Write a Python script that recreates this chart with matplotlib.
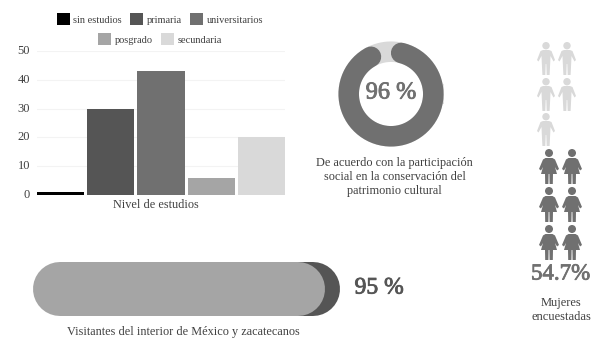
#!/usr/bin/env python3

import matplotlib.pyplot as plt
import matplotlib.patheffects as pe
from matplotlib.patches import Polygon, Circle
import numpy as np

plt.rcParams['font.family'] = ['Liberation Serif', 'DejaVu Serif']

categorias = ["sin estudios", "primaria", "universitarios", "posgrado", "secundaria"]
valores = [1, 30, 43, 6, 20]
colores = ["#000000", "#555555", "#707070", "#a5a5a5", "#d9d9d9"]
yticks = [0, 10, 20, 30, 40, 50]

pct_acuerdo = 96
pct_visitantes = 95
pct_mujeres = 54.7
n_hombres = 5
n_mujeres = 6

W, H = 609, 344
PX = 72 / 100  # points per pixel at dpi 100
TXT = "#404040"

fig = plt.figure(figsize=(W / 100, H / 100), dpi=100)

# bar chart
ax = fig.add_axes([37 / W, 1 - 195 / H, 248 / W, 144 / H])
bars = ax.bar(range(5), valores, width=0.94, color=colores, zorder=3)
ax.set_xlim(-0.47, 4.47)
ax.set_ylim(0, 50)
ax.set_yticks(yticks)
ax.set_xticks([])
ax.tick_params(axis='y', length=0, labelsize=9, labelcolor=TXT, pad=5)
for lab in ax.get_yticklabels():
    lab.set_y(lab.get_position()[1])
    lab.set_verticalalignment('center')
ax.grid(axis='y', color="#f3f3f3", lw=0.8, zorder=0)
ax.set_axisbelow(True)
for s in ax.spines.values():
    s.set_visible(False)
ax.set_xlabel("Nivel de estudios", fontsize=8.8, color=TXT, va='top')
ax.xaxis.set_label_coords(118.5 / 248, -4 / 144)

leg1 = ax.legend(bars[:3], categorias[:3], ncol=3, frameon=False, fontsize=7.5,
                 labelcolor=TXT, handlelength=1.25, handleheight=1.25,
                 handletextpad=0.35, columnspacing=0.8, borderpad=0,
                 loc='center', bbox_to_anchor=(160 / W, 1 - 19 / H),
                 bbox_transform=fig.transFigure)
ax.add_artist(leg1)
ax.legend(bars[3:], categorias[3:], ncol=2, frameon=False, fontsize=7.5,
          labelcolor=TXT, handlelength=1.25, handleheight=1.25,
          handletextpad=0.35, columnspacing=0.8, borderpad=0,
          loc='center', bbox_to_anchor=(160 / W, 1 - 39 / H),
          bbox_transform=fig.transFigure)

# overlay in pixel coordinates for the infographic parts
ov = fig.add_axes([0, 0, 1, 1])
ov.set_xlim(0, W)
ov.set_ylim(H, 0)
ov.axis('off')
ov.patch.set_alpha(0)


def grueso(color):
    return [pe.withStroke(linewidth=0.6, foreground=color)]


# donut with rounded ends
cx, cy, r, grosor = 391, 94, 42.3, 20.5
cap = np.degrees(grosor / 2 / r)
t = np.radians(np.linspace(0, 360, 200))
ov.plot(cx + r * np.cos(t), cy - r * np.sin(t), color="#d9d9d9", lw=grosor * PX)
barrido = pct_acuerdo / 100 * 360 - 2 * cap
t = np.radians(90 - cap - np.linspace(0, barrido, 200))
ov.plot(cx + r * np.cos(t), cy - r * np.sin(t), color="#707070",
        lw=grosor * PX, solid_capstyle='round')
ov.text(cx, 93, f"{pct_acuerdo} %", ha='center', va='center', fontsize=17.5,
        color="#707070", path_effects=grueso("#707070"))
ov.text(394.5, 177, "De acuerdo con la participación\nsocial en la conservación del\npatrimonio cultural",
        ha='center', va='center', fontsize=8.8, color=TXT, linespacing=1.22)

# pill bar
x0, x1, ymid, alto = 33, 340, 289, 54
xv = x0 + (x1 - x0) * pct_visitantes / 100
ov.plot([xv - alto, x1 - alto / 2], [ymid, ymid], color="#555555", lw=alto * PX,
        solid_capstyle='round')
ov.plot([x0 + alto / 2, xv - alto / 2], [ymid, ymid], color="#a5a5a5", lw=alto * PX,
        solid_capstyle='round')
ov.text(379, 288, f"{pct_visitantes} %", ha='center', va='center', fontsize=17,
        color="#555555", path_effects=grueso("#555555"))
ov.text(183, 331.5, "Visitantes del interior de México y zacatecanos", ha='center', va='center',
        fontsize=8.8, color=TXT)


def hombre(x, y, color):
    ov.add_patch(Circle((x, y + 3.7), 3.7, color=color, lw=0))
    pts = [(-3, 8), (3, 8), (5.5, 9), (9, 18), (7.5, 19.5), (4.5, 14), (4.2, 21), (3.6, 33),
           (0.7, 33), (0.3, 22), (-0.3, 22), (-0.7, 33), (-3.6, 33), (-4.2, 21), (-4.5, 14),
           (-7.5, 19.5), (-9, 18), (-5.5, 9)]
    ov.add_patch(Polygon([(x + a, y + b) for a, b in pts], color=color, lw=0))


def mujer(x, y, color):
    ov.add_patch(Circle((x, y + 4), 4, color=color, lw=0))
    pts = [(-3.5, 9), (3.5, 9), (6, 10.5), (10, 20), (8, 21.5), (6, 18), (8, 25), (4, 25),
           (3.8, 35), (0.6, 35), (0.4, 25), (-0.4, 25), (-0.6, 35), (-3.8, 35), (-4, 25),
           (-8, 25), (-6, 18), (-8, 21.5), (-10, 20), (-6, 10.5)]
    ov.add_patch(Polygon([(x + a, y + b) for a, b in pts], color=color, lw=0))


for i in range(n_hombres):
    hombre([546, 567][i % 2], [42, 78, 113][i // 2], "#d9d9d9")
for i in range(n_mujeres):
    mujer([549, 572][i % 2], [149, 187, 225][i // 2], "#707070")

ov.text(560.5, 274, f"{pct_mujeres}%", ha='center', va='center', fontsize=16.5, color="#707070",
        path_effects=grueso("#707070"))
ov.text(561, 310, "Mujeres\nencuestadas", ha='center', va='center', fontsize=9, color=TXT,
        linespacing=1.3)

plt.savefig("out.png", dpi=100)
